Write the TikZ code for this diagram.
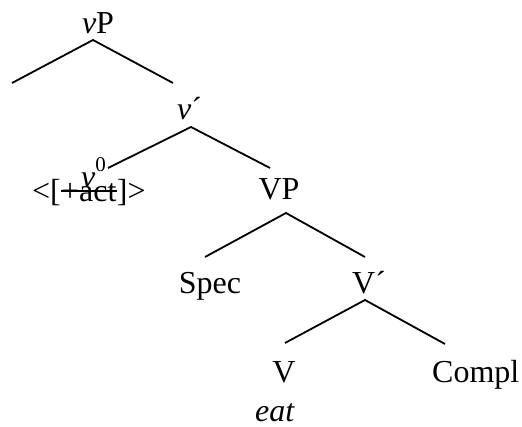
\documentclass[tikz,border=0pt]{standalone}
\usepackage{fontspec}
\setmainfont{Liberation Serif}
\begin{document}
\begin{tikzpicture}[x=1pt,y=-1pt,
  lbl/.style={inner sep=0pt, font=\fontsize{32}{38}\selectfont},
  edge/.style={line width=1.8pt}]
\useasboundingbox (0,0) rectangle (522,427);
% vP
\node[lbl, anchor=base] (vP) at (98,34) {\textit{v}P};
\coordinate (a1) at (93,40);
\coordinate (l1) at (12,83);
\coordinate (r1) at (173,83);
\draw[edge] (l1) -- (a1) -- (r1);
% v'
\node[lbl, anchor=base west] (vbar) at (177,120) {\textit{v}´};
\coordinate (a2) at (191,127);
\coordinate (l2) at (108,168);
\coordinate (r2) at (270,168);
\draw[edge] (l2) -- (a2) -- (r2);
% v0
\node[lbl, anchor=base west] (v0) at (81,188) {\textit{v}\raisebox{16pt}{\fontsize{21}{21}\selectfont 0}};
\node[lbl, anchor=base east] (fl) at (61,202) {<[};
\node[lbl, anchor=base west] (fa) at (fl.base east) {+act};
\node[lbl, anchor=base west] (fr) at (fa.base east) {]>};
\draw[line width=1.6pt] ([yshift=11pt]fa.base west) -- ([yshift=11pt]fa.base east);
% VP
\node[lbl, anchor=base] (VP) at (279,200) {VP};
\coordinate (a3) at (286,213);
\coordinate (l3) at (205,257);
\coordinate (r3) at (365,257);
\draw[edge] (l3) -- (a3) -- (r3);
\node[lbl, anchor=base] (spec) at (210,294) {Spec};
\node[lbl, anchor=base west] (Vbar) at (352,294) {V´};
\coordinate (a4) at (365,300);
\coordinate (l4) at (285,343);
\coordinate (r4) at (445,344);
\draw[edge] (l4) -- (a4) -- (r4);
\node[lbl, anchor=base] (V) at (284,382) {V};
\node[lbl, anchor=base west] (compl) at (432,382) {Compl};
\node[lbl, anchor=base] (eat) at (275,421) {\textit{eat}};
\end{tikzpicture}
\end{document}
